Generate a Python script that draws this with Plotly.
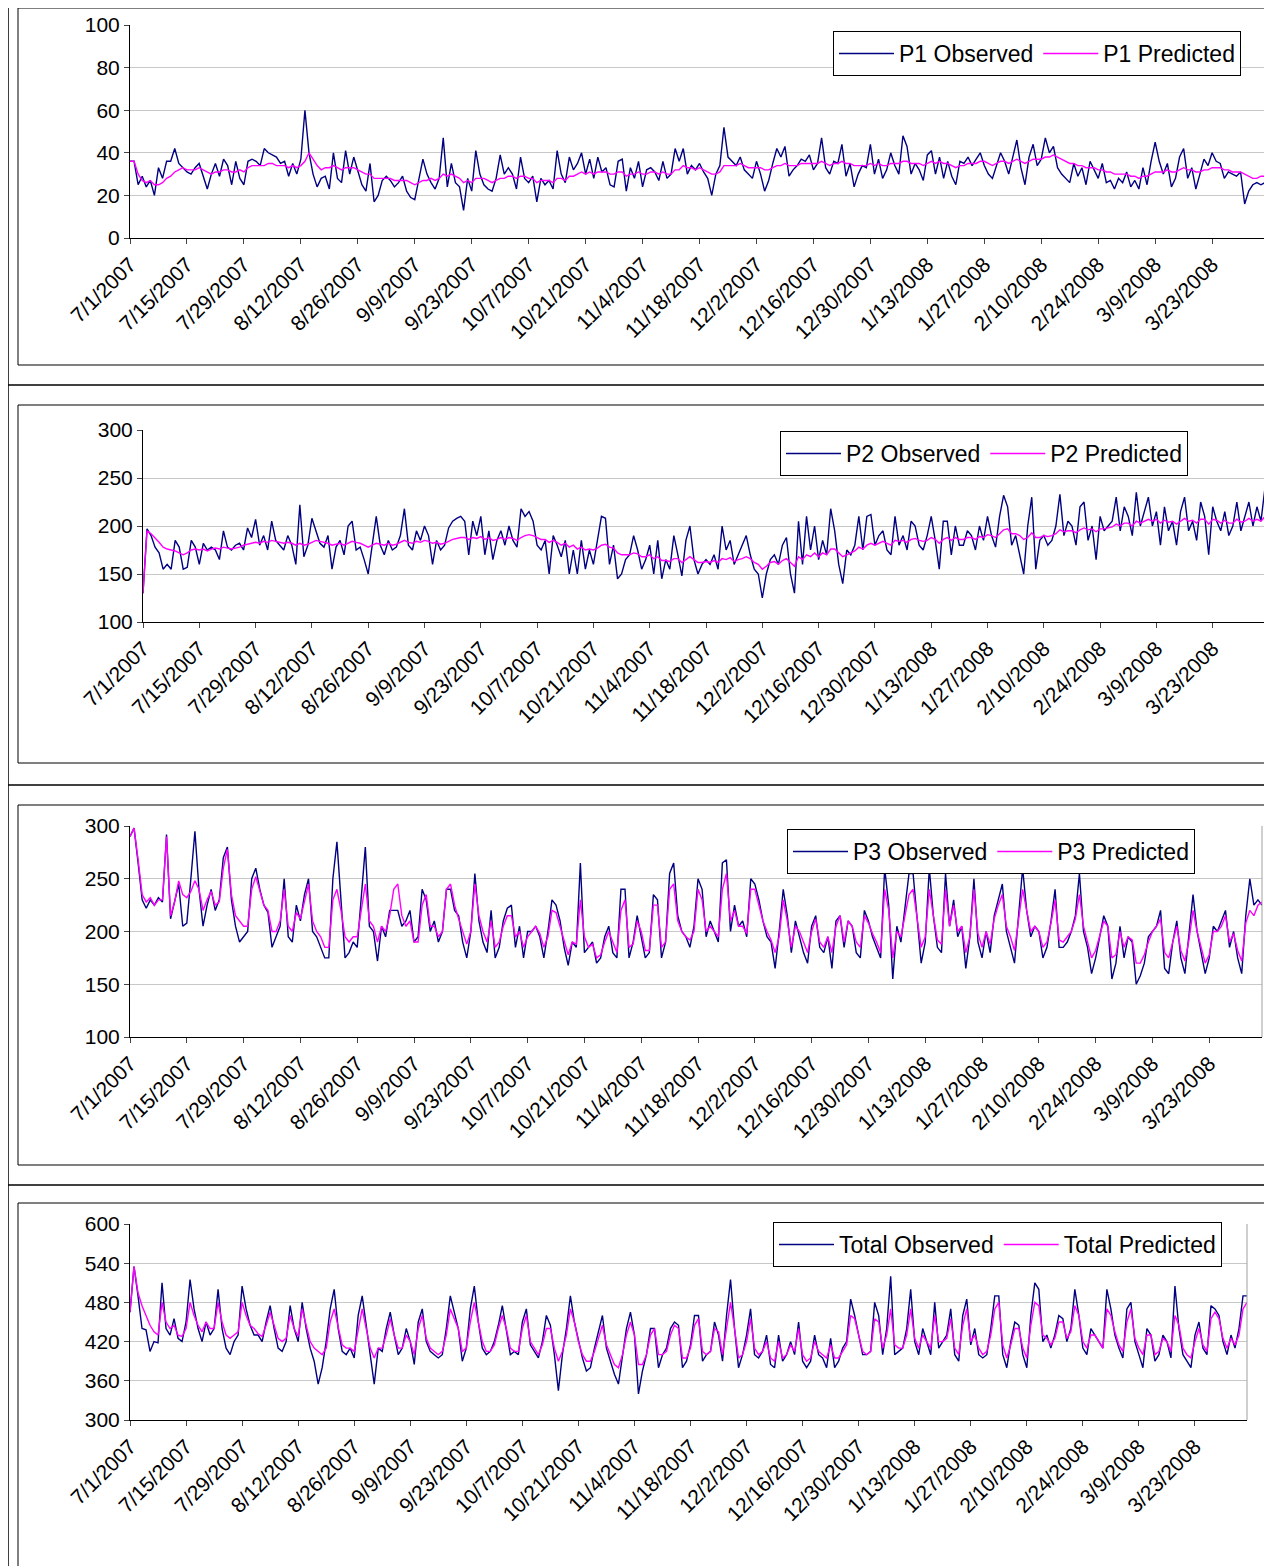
import pandas as pd
import plotly.graph_objs as go

# daily values, 7/1/2007 .. 4/5/2008
p1_obs = [36,36,25,29,24,27,20,33,28,36,36,42,35,33,31,30,33,35,29,23,
          30,35,29,37,34,25,36,28,25,36,37,36,34,42,40,39,38,35,36,29,
          35,30,37,60,40,30,24,28,29,23,40,28,26,41,30,38,32,25,22,35,
          17,20,27,29,27,24,26,29,22,19,18,28,37,30,26,23,28,47,24,35,
          26,24,13,28,22,41,30,25,23,22,28,39,30,33,30,23,38,28,26,29,
          17,28,25,27,23,41,30,26,38,32,35,40,30,37,28,38,31,33,25,24,
          36,37,22,33,28,36,24,32,33,31,27,36,28,30,42,36,42,30,34,32,
          35,31,28,20,30,34,52,38,36,34,38,32,30,28,36,30,22,27,35,42,
          38,43,29,32,34,37,36,39,32,35,47,33,30,36,35,44,29,35,24,30,
          34,33,44,30,37,28,32,40,34,30,48,43,30,35,32,27,39,41,30,38,
          28,36,29,25,36,35,38,34,37,40,34,30,28,34,40,36,30,38,46,33,
          25,38,44,34,37,47,40,43,33,30,28,26,35,29,33,25,36,32,28,35,
          26,27,23,28,26,31,24,27,23,33,25,36,45,36,30,35,24,28,38,42,
          28,33,23,30,37,34,40,36,35,28,31,30,29,31,16,22,25,26,25,26]
p1_pred = [36,36,30,27,26,27,25,25,26,28,29,31,32,33,32,32,32,33,32,31,
           30,31,31,32,32,31,31,32,31,33,34,34,34,34,35,35,34,34,34,33,
           34,33,34,36,40,37,34,32,33,33,34,33,32,33,33,33,32,31,30,30,
           28,28,28,28,28,27,27,27,27,26,25,26,27,27,28,27,28,30,29,30,
           29,28,26,27,26,28,28,28,27,26,27,28,28,29,29,28,29,29,28,28,
           26,27,27,27,26,28,28,27,29,29,30,31,30,31,30,31,31,31,30,30,
           31,31,29,30,30,31,30,30,31,31,30,31,30,30,32,32,34,33,33,32,
           33,32,31,30,30,31,34,34,34,34,35,34,33,33,33,33,32,32,33,34,
           34,35,34,34,34,35,35,35,35,35,36,35,34,35,35,36,35,35,34,34,
           34,34,35,34,35,34,34,35,35,35,36,36,35,35,35,34,35,36,35,36,
           35,35,34,33,34,34,35,35,35,36,36,35,34,35,36,36,35,36,37,36,
           35,36,37,37,37,38,38,39,38,37,36,35,35,34,34,33,33,33,32,32,
           31,31,30,30,30,30,29,29,28,29,29,30,31,31,31,32,31,31,32,33,
           32,32,31,31,32,32,33,33,33,32,32,31,31,31,30,29,28,28,29,29]
p2_obs = [130,197,190,178,172,155,160,155,185,178,155,157,185,178,160,182,175,178,175,165,
          195,178,175,180,182,175,198,188,207,180,190,175,205,185,180,175,190,180,160,222,
          168,180,208,195,182,178,190,155,178,185,170,200,205,175,178,165,150,180,210,180,
          170,185,175,178,190,218,180,175,195,185,200,190,160,185,175,180,198,205,208,210,
          205,170,205,190,210,170,195,165,185,195,180,200,185,178,218,210,215,205,180,175,
          185,150,190,180,168,185,150,175,150,185,155,175,160,185,210,208,160,180,145,150,
          165,170,190,175,155,165,180,150,185,145,165,155,190,170,148,185,200,165,150,160,
          165,160,170,155,200,175,185,160,170,180,190,170,155,150,125,150,165,170,160,180,
          188,150,130,205,160,210,175,200,165,185,170,218,195,160,140,175,170,180,210,175,
          210,212,180,190,195,175,170,210,180,190,175,205,200,180,175,190,210,185,155,205,
          205,170,200,180,180,195,190,175,200,185,210,190,178,210,232,220,180,190,170,150,
          200,230,155,185,190,180,185,200,233,190,205,200,180,220,225,185,200,165,210,195,
          200,205,230,195,220,210,190,235,200,215,230,200,215,180,220,195,205,180,215,230,
          195,205,185,225,210,170,220,205,195,215,190,200,225,195,210,225,200,220,205,240]
p2_pred = [130,195,192,188,183,178,176,175,174,172,170,172,175,176,175,176,174,176,177,176,
           178,177,176,177,178,180,181,182,183,182,184,183,185,184,183,182,183,182,180,182,
           180,181,183,185,184,183,182,180,181,182,180,182,184,183,182,180,178,180,182,181,
           180,182,180,181,183,185,183,182,184,183,185,184,182,183,181,182,184,186,187,188,
           188,186,188,187,189,186,188,185,186,188,186,188,187,185,188,190,191,190,188,186,
           186,183,185,183,180,182,178,180,176,178,175,176,175,177,180,181,178,177,172,170,
           170,170,172,171,168,168,170,166,168,164,164,163,166,166,162,165,168,165,162,162,
           163,162,164,162,166,165,167,163,165,166,168,166,162,160,155,158,162,163,160,164,
           166,162,158,168,165,170,168,172,168,172,170,176,176,172,168,170,172,174,178,176,
           180,182,180,182,184,182,180,185,184,185,183,186,187,185,184,185,188,186,182,186,
           188,185,188,186,186,188,188,186,189,188,191,190,188,192,196,197,192,192,190,186,
           188,193,188,188,190,189,190,192,196,194,195,195,193,196,198,196,197,194,197,197,
           198,199,202,200,203,203,200,205,203,205,207,205,207,203,206,204,205,202,205,208,
           205,206,203,207,207,202,207,206,203,206,203,203,207,204,205,208,205,207,205,210]
p3_obs = [290,298,265,230,222,230,225,232,228,292,212,230,245,205,208,250,295,240,205,225,
          240,220,230,270,280,230,205,190,195,200,250,260,240,225,218,185,195,205,250,195,
          190,225,210,235,250,200,195,185,175,175,250,285,225,175,180,190,185,230,280,205,
          200,172,205,195,220,220,220,205,210,220,190,195,240,230,200,210,190,200,240,240,
          220,215,190,175,200,255,210,190,180,220,175,185,210,222,225,185,205,175,200,200,
          205,195,175,200,230,225,210,185,168,190,185,265,180,185,190,170,175,195,205,180,
          175,240,240,175,190,215,195,175,180,235,230,175,190,255,265,215,200,195,185,205,
          250,240,195,210,200,190,265,268,200,225,205,210,195,250,245,230,210,195,190,165,
          200,240,215,180,210,195,180,170,205,215,185,180,195,165,210,215,185,210,205,180,
          175,220,210,195,185,175,260,225,155,205,190,225,255,255,210,170,190,260,215,185,
          180,255,205,230,195,205,165,195,250,190,175,200,180,215,230,245,200,185,170,215,
          260,220,195,205,200,175,185,210,240,185,185,190,200,215,255,200,185,160,175,195,
          215,205,155,170,205,175,195,190,150,158,170,195,200,205,220,165,160,190,210,175,
          160,195,235,200,180,160,175,205,200,210,220,185,200,175,160,215,250,225,230,225]
p3_pred = [290,298,268,235,228,232,225,230,230,290,215,228,248,235,232,238,248,240,220,230,
           238,225,228,260,278,235,215,210,205,205,240,252,238,225,220,200,200,210,240,205,
           200,218,212,228,245,210,200,195,185,185,230,240,220,195,190,195,195,220,245,210,
           205,190,205,200,215,240,245,215,205,210,190,190,225,235,205,205,195,200,240,245,
           225,212,200,188,200,245,215,200,190,210,185,190,205,215,215,195,200,185,195,200,
           205,198,185,195,220,218,205,190,178,190,188,230,195,185,188,175,178,190,200,190,
           180,220,230,185,188,210,200,182,182,225,225,185,190,240,245,210,200,195,192,200,
           240,230,200,205,200,195,240,255,210,220,205,205,198,240,240,225,210,200,192,180,
           195,230,210,185,205,200,190,180,200,212,190,185,195,180,205,215,190,210,205,190,
           185,215,208,198,190,180,240,220,175,200,195,215,235,240,210,185,195,240,215,192,
           188,240,205,225,200,205,180,195,240,198,185,200,188,212,225,235,205,195,182,210,
           240,220,200,205,200,185,190,208,230,192,190,195,200,212,235,205,190,175,182,195,
           210,205,175,178,200,185,195,192,170,170,178,190,200,205,212,180,175,190,205,182,
           172,192,220,200,185,170,178,200,200,205,215,190,198,182,172,208,220,215,225,228]
tot_obs = [465,535,490,440,438,405,420,418,510,440,430,455,425,420,450,515,470,440,420,450,
           430,440,500,440,410,400,420,430,505,470,445,430,430,420,450,475,440,410,405,420,
           475,440,420,480,440,410,390,355,380,420,470,500,440,405,400,410,395,460,490,445,
           400,355,410,405,440,465,430,400,410,440,420,385,450,470,420,405,400,395,400,440,
           490,465,440,390,410,470,505,450,410,400,405,420,445,475,440,400,405,400,450,470,
           415,405,395,420,460,445,400,345,400,440,490,450,420,395,375,380,410,435,460,410,
           390,370,355,400,440,465,430,340,375,400,440,440,380,400,410,440,450,445,380,390,
           415,460,460,390,400,405,450,430,390,460,515,440,380,400,430,470,400,395,405,430,
           385,380,430,390,400,420,400,450,390,380,390,430,400,395,380,425,380,390,410,420,
           485,460,430,400,400,405,480,460,400,440,520,400,405,410,440,500,420,400,440,420,
           400,480,410,420,430,470,400,390,460,485,415,440,400,395,400,440,490,490,400,380,
           420,450,445,400,380,460,510,500,420,430,410,430,460,455,420,440,500,460,410,400,
           440,430,420,410,500,470,430,410,395,470,480,420,400,380,440,430,390,400,430,420,
           395,505,440,400,390,380,430,450,410,400,475,470,460,420,400,430,410,440,490,490]
tot_pred = [465,535,495,475,460,445,435,430,480,450,440,445,430,428,440,480,460,445,435,450,
            440,440,480,450,430,425,430,435,480,460,445,440,432,428,445,465,445,425,420,425,
            460,440,428,470,445,420,410,405,400,410,450,470,440,415,410,410,405,440,470,440,
            410,395,410,410,430,455,430,410,410,430,420,400,440,460,425,410,405,400,405,430,
            470,455,440,405,410,450,480,450,420,405,405,415,440,460,440,410,405,405,440,460,
            420,410,400,415,440,440,410,390,405,430,470,450,420,400,390,390,405,425,445,415,
            400,385,380,400,430,450,430,385,385,400,430,440,400,400,405,430,445,440,395,395,
            410,445,455,405,400,405,440,435,400,440,480,440,395,400,420,455,410,400,405,420,
            395,390,420,395,400,415,405,440,400,390,395,420,405,400,395,415,395,395,405,415,
            460,455,430,405,400,405,455,450,410,430,470,415,410,410,430,470,425,410,430,420,
            410,460,420,420,425,455,410,400,445,470,420,430,410,400,405,430,470,480,415,395,
            415,440,440,410,395,445,480,475,430,425,415,425,450,450,425,435,475,460,420,410,
            430,430,420,410,470,460,435,415,405,450,470,425,410,400,430,430,400,405,425,420,
            405,460,445,410,400,395,420,440,415,405,455,465,455,425,410,425,415,430,470,480]

dates = pd.date_range("2007-07-01", periods=len(p1_obs), freq="D")
tick_dates = dates[::14]
tick_text = [f"{d.month}/{d.day}/{d.year}" for d in tick_dates]

W, H = 1272, 1566
OFF = 8  # page body margin
NAVY = "#000080"
MAG = "#FF00FF"
FONT = "Liberation Sans, Arial, sans-serif"


def px(x):
    return (x - OFF) / W


def py(y):
    return 1 - (y - OFF) / H


# panel: (obs, pred, names, yrange, dtick, plot px box (x0,x1,ytop,ybot), legend px (xright, ytop))
panels = [
    (p1_obs, p1_pred, ("P1 Observed", "P1 Predicted"), [0, 100], 20, (130, 1265, 25, 238), (1241, 31)),
    (p2_obs, p2_pred, ("P2 Observed", "P2 Predicted"), [100, 300], 50, (143, 1265, 430, 622), (1188, 431)),
    (p3_obs, p3_pred, ("P3 Observed", "P3 Predicted"), [100, 300], 50, (130, 1262, 826, 1037), (1195, 829)),
    (tot_obs, tot_pred, ("Total Observed", "Total Predicted"), [300, 600], 60, (130, 1247, 1224, 1420), (1222, 1222)),
]

fig = go.Figure()
layout = dict(width=W, height=H, margin=dict(l=0, r=0, t=0, b=0, autoexpand=False),
              paper_bgcolor="white", plot_bgcolor="white",
              font=dict(family=FONT, size=20, color="black"), showlegend=True)
shapes = []
for i, (obs, pred, names, yr, dt, box, leg) in enumerate(panels, start=1):
    sfx = "" if i == 1 else str(i)
    lg = "legend" if i == 1 else f"legend{i}"
    x0, x1, yt, yb = box
    fig.add_trace(go.Scatter(x=dates, y=obs, mode="lines", name=names[0],
                             line=dict(color=NAVY, width=1.4), xaxis="x" + sfx, yaxis="y" + sfx, legend=lg))
    fig.add_trace(go.Scatter(x=dates, y=pred, mode="lines", name=names[1],
                             line=dict(color=MAG, width=1.4), xaxis="x" + sfx, yaxis="y" + sfx, legend=lg))
    layout["xaxis" + sfx] = dict(domain=[px(x0), px(x1)], anchor="y" + sfx, type="date",
                                 range=[dates[0], dates[-1]], tickvals=list(tick_dates), ticktext=tick_text,
                                 tickangle=-45, ticks="outside", ticklen=5, showgrid=False, automargin=False,
                                 showline=True, linecolor="black", tickfont=dict(size=21))
    layout["yaxis" + sfx] = dict(domain=[py(yb), py(yt)], anchor="x" + sfx, range=yr, dtick=dt,
                                 ticks="outside", ticklen=5, showgrid=True, gridcolor="#c8c8c8", automargin=False,
                                 showline=True, linecolor="black", zeroline=False, tickfont=dict(size=21))
    layout[lg] = dict(x=px(leg[0]), y=py(leg[1]), xanchor="right", yanchor="top",
                      orientation="h", bordercolor="black", borderwidth=1, bgcolor="white",
                      font=dict(size=23), itemwidth=55)
    # right edge of plot area
    shapes.append(dict(type="line", xref="paper", yref="paper", x0=px(x1), x1=px(x1),
                       y0=py(yb), y1=py(yt), line=dict(color="#a0a0a0", width=1)))

# panel frames and page rules
for yt, yb in [(8, 365), (405, 763), (805, 1165), (1203, 1574)]:
    shapes.append(dict(type="rect", xref="paper", yref="paper", x0=px(18), x1=px(1290),
                       y0=py(yb), y1=py(yt), line=dict(color="black", width=1)))
for y in [385, 785, 1185]:
    shapes.append(dict(type="line", xref="paper", yref="paper", x0=px(8), x1=1.0,
                       y0=py(y), y1=py(y), line=dict(color="black", width=1.5)))
shapes.append(dict(type="line", xref="paper", yref="paper", x0=px(8), x1=px(8),
                   y0=0, y1=py(8), line=dict(color="black", width=1.5)))
layout["shapes"] = shapes
fig.update_layout(**layout)
fig.write_html("out.html")
